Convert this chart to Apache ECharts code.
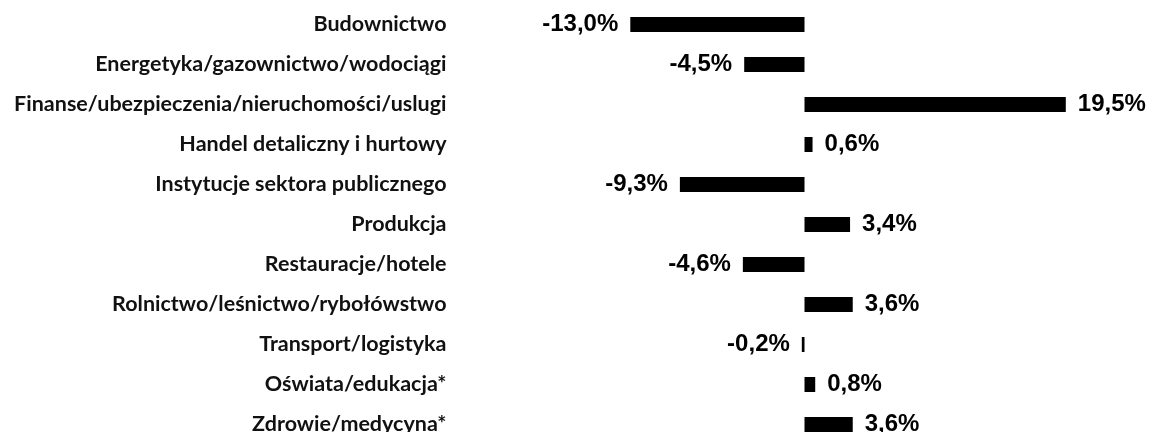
<!DOCTYPE html>
<html>
<head>
<meta charset="utf-8">
<script src="https://cdn.jsdelivr.net/npm/echarts@6/dist/echarts.min.js"></script>
<style>
  html, body { margin: 0; padding: 0; background: #fff; overflow: hidden; }
  #chart { width: 1154px; height: 445px; }
</style>
</head>
<body>
<div id="chart"></div>
<script>
// branże i zmiana w %
const categories = [
  'Budownictwo',
  'Energetyka/gazownictwo/wodociągi',
  'Finanse/ubezpieczenia/nieruchomości/uslugi',
  'Handel detaliczny i hurtowy',
  'Instytucje sektora publicznego',
  'Produkcja',
  'Restauracje/hotele',
  'Rolnictwo/leśnictwo/rybołówstwo',
  'Transport/logistyka',
  'Oświata/edukacja*',
  'Zdrowie/medycyna*'
]
const values = [-13.0, -4.5, 19.5, 0.6, -9.3, 3.4, -4.6, 3.6, -0.2, 0.8, 3.6]

// kontener jest trochę wyższy niż okno, ostatni wiersz wychodzi poza dół
const chart = echarts.init(document.getElementById('chart'))

// etykieta po lewej dla ujemnych, po prawej dla dodatnich
const seriesData = values.map(v => {
  return {
    value: v,
    label: { position: v < 0 ? 'left' : 'right' }
  }
})

chart.setOption({
  animation: false,
  grid: {
    left: 469.5,
    width: 670,
    top: 4.5,
    height: 440,
    containLabel: false
  },
  xAxis: {
    type: 'value',
    min: -25,
    max: 25,
    show: false
  },
  yAxis: {
    type: 'category',
    inverse: true,
    data: categories,
    axisLine: { show: false },
    axisTick: { show: false },
    splitLine: { show: false },
    axisLabel: {
      margin: 23,
      color: '#111',
      fontFamily: 'Lato',
      fontWeight: 'bold',
      fontSize: 21.5
    }
  },
  series: [
    {
      type: 'bar',
      data: seriesData,
      barWidth: 15,
      itemStyle: { color: '#000' },
      label: {
        show: true,
        distance: 12,
        color: '#000',
        fontFamily: 'Liberation Sans',
        fontWeight: 'bold',
        fontSize: 24,
        formatter: p => p.value.toFixed(1).replace('.', ',') + '%'
      }
    }
  ]
})
</script>
</body>
</html>
